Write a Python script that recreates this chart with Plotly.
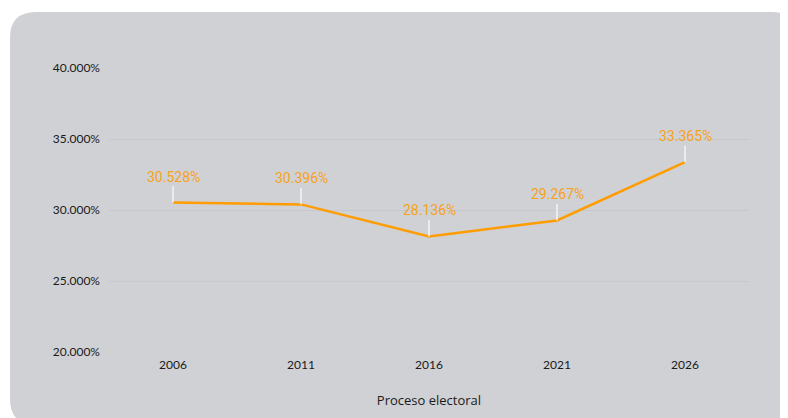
import plotly.graph_objects as go

years = ["2006", "2011", "2016", "2021", "2026"]
values = [30.528, 30.396, 28.136, 29.267, 33.365]
y_ticks = [20, 25, 30, 35, 40]

W, H = 788, 418
L, R, T, B = 101, 47, 60, 74
pw, ph = W - L - R, H - T - B

def px(x):
    return (x - L) / pw

def py(y):
    return (H - B - y) / ph

# rounded background rectangle (pixel coords -> paper coords)
x0, x1, y0, y1, r = 2, 790, 4, 417, 26
path = (
    f"M {px(x0 + r)},{py(y0)} L {px(x1 - r)},{py(y0)} "
    f"Q {px(x1)},{py(y0)} {px(x1)},{py(y0 + r)} "
    f"L {px(x1)},{py(y1 - r)} Q {px(x1)},{py(y1)} {px(x1 - r)},{py(y1)} "
    f"L {px(x0 + r)},{py(y1)} Q {px(x0)},{py(y1)} {px(x0)},{py(y1 - r)} "
    f"L {px(x0)},{py(y0 + r)} Q {px(x0)},{py(y0)} {px(x0 + r)},{py(y0)} Z"
)

fig = go.Figure()
fig.add_trace(go.Scatter(
    x=years, y=values, mode="lines",
    line=dict(color="#ff9c00", width=2.5),
    hoverinfo="skip", showlegend=False,
))

for i, v in enumerate(values):
    fig.add_annotation(
        x=i, y=v, xref="x", yref="y",
        text=f"{v:.3f}%",
        showarrow=True, arrowhead=0, arrowwidth=1.5, arrowcolor="#f4f4f4",
        ax=0, ay=-26, standoff=0,
        font=dict(family="Roboto", size=14, color="#f6a21d"),
    )

fig.add_shape(type="path", xref="paper", yref="paper", path=path,
              fillcolor="#d0d1d5", line=dict(width=0), layer="below")

fig.update_layout(
    width=W, height=H,
    margin=dict(l=L, r=R, t=T, b=B),
    paper_bgcolor="white",
    plot_bgcolor="rgba(0,0,0,0)",
    font=dict(family="Lato", size=12, color="#1a1a1a"),
    xaxis=dict(
        type="category", range=[-0.5, 4.5],
        showgrid=False, zeroline=False, showline=False,
        ticks="", ticklabelstandoff=4,
        tickfont=dict(family="Lato", size=12, color="#1a1a1a"),
        title=dict(text="Proceso electoral", standoff=24,
                   font=dict(family="Open Sans", size=13, color="#1a1a1a")),
    ),
    yaxis=dict(
        range=[20, 40], tickvals=y_ticks,
        ticktext=[f"{t:.3f}%" for t in y_ticks],
        showgrid=True, gridcolor="#c7c8cb", gridwidth=1,
        zeroline=False, showline=False, ticks="",
        ticklabelstandoff=8,
        tickfont=dict(family="Lato", size=12, color="#1a1a1a"),
    ),
)

fig.write_html("out.html")
